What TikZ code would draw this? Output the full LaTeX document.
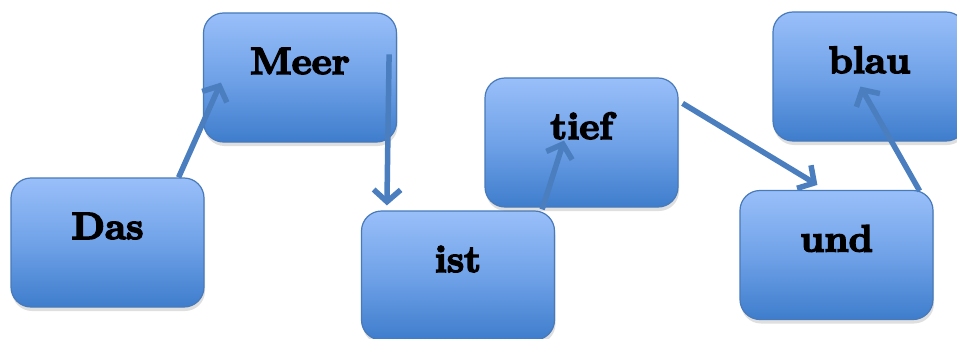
\documentclass[tikz,border=0pt]{standalone}
\usepackage{fontspec}
\usetikzlibrary{arrows.meta,shadows}
\newfontfamily\wordfont{lmroman10-bold}[Extension=.otf, FakeBold=4]
\definecolor{boxtop}{RGB}{153,191,249}
\definecolor{boxmid}{RGB}{112,162,232}
\definecolor{boxbot}{RGB}{62,125,204}
\definecolor{boxline}{RGB}{72,122,186}
\definecolor{arrowblue}{RGB}{74,126,190}
\tikzset{
  wordbox/.style={rectangle, rounded corners=20pt, draw=boxline, line width=1.2pt,
    top color=boxtop, bottom color=boxbot, middle color=boxmid,
    minimum width=193pt, text height=61pt, text depth=68pt, inner ysep=0pt,
    font=\wordfont\fontsize{38}{40}\selectfont,
    drop shadow={opacity=0.25, shadow xshift=1pt, shadow yshift=-4pt}},
  link/.style={draw=arrowblue, line width=5.5pt, -{Straight Barb[length=12pt,width=27pt]}}
}
\begin{document}
\begin{tikzpicture}[x=1pt, y=1pt]
        \fill[white] (0,0) rectangle (957,338);
        \useasboundingbox (0,0) rectangle (957,338);
        \node[wordbox] (das) at (107.5,95.5) {Das};
        \node[wordbox] (meer) at (300,260.5) {Meer};
        \node[wordbox] (ist) at (458,62.5) {ist};
        \node[wordbox] (tief) at (581.5,195.5) {tief};
        \node[wordbox] (und) at (836.5,83) {und};
        \node[wordbox] (blau) at (869.5,261.5) {blau};
        \draw[link] ([xshift=-26pt]das.north east) -- ([xshift=18pt,yshift=60pt]meer.south west);
        \draw[link] ([xshift=-8pt,yshift=-42pt]meer.north east) -- ([xshift=26pt,yshift=5pt]ist.north west);
        \draw[link] ([xshift=-13pt,yshift=1pt]ist.north east) -- ([xshift=-17.5pt,yshift=67pt]tief.south);
        \draw[link] ([xshift=4pt,yshift=-26pt]tief.north east) -- ([xshift=78pt,yshift=5pt]und.north west);
        \draw[link] ([xshift=-14pt,yshift=-1pt]und.north east) -- ([xshift=88pt,yshift=55pt]blau.south west);
\end{tikzpicture}
\end{document}
